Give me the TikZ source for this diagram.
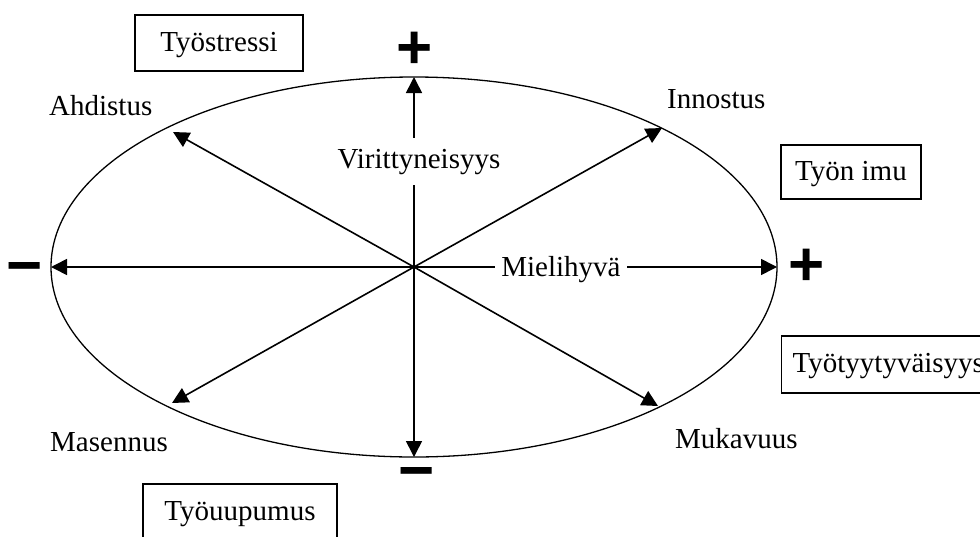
\documentclass[tikz,border=0pt]{standalone}
\usepackage{fontspec}
\setmainfont{Liberation Serif}
\newfontfamily\signfont{Liberation Sans}
\usetikzlibrary{arrows.meta}
\begin{document}
\begin{tikzpicture}[x=1pt,y=-1pt,
  txt/.style={font=\fontsize{29}{34}\selectfont, inner sep=0pt},
  boxed/.style={draw, line width=1.3pt, font=\fontsize{29}{34}\selectfont, text height=23pt, text depth=7pt, inner sep=0pt},
  sign/.style={font=\signfont\fontsize{62}{66}\selectfont\bfseries, inner sep=0pt},
  arr/.style={line width=1.6pt, -{Triangle[length=16pt,width=16pt]}},
  axlbl/.style={font=\fontsize{29}{34}\selectfont, fill=white, inner xsep=6pt, inner ysep=11pt},
  rim/.style={line width=1.3pt}
]
\useasboundingbox (0,0) rectangle (980,536);
\clip (0,0) rectangle (980,536);

\coordinate (c) at (414,267);
\draw[rim] (c) ellipse [x radius=363, y radius=190];

\coordinate (up) at (414,77);
\coordinate (down) at (414,457);
\coordinate (left) at (51,267);
\coordinate (right) at (777,267);
\coordinate (ahd) at (173,132);
\coordinate (inn) at (662,128);
\coordinate (mas) at (172,403);
\coordinate (muk) at (658,406);

\draw[arr] (c) -- (up);
\draw[arr] (c) -- (down);
\draw[arr] (c) -- (left);
\draw[arr] (c) -- (right);
\draw[arr] (c) -- (ahd);
\draw[arr] (c) -- (inn);
\draw[arr] (c) -- (mas);
\draw[arr] (c) -- (muk);

\node[axlbl, anchor=base] (vir) at (419,168) {Virittyneisyys};
\node[axlbl, anchor=base] (mie) at (561,276) {Mielihyvä};

\node[txt, anchor=base west] (ahdl) at (49,115) {Ahdistus};
\node[txt, anchor=base west] (innl) at (667,108) {Innostus};
\node[txt, anchor=base west] (masl) at (50,451) {Masennus};
\node[txt, anchor=base west] (mukl) at (675,448) {Mukavuus};

\node[boxed, minimum width=168, minimum height=56] (tst) at (219,43) {Työstressi};
\node[boxed, minimum width=140, minimum height=54] (timu) at (851,172) {Työn imu};
\node[boxed, anchor=west, inner xsep=11pt, minimum height=57] (tty) at (781,364.5) {Työtyytyväisyys};
\node[boxed, minimum width=194, minimum height=56] (tuu) at (240,512) {Työuupumus};

\node[sign] (ptop) at (414.5,50) {+};
\node[sign] (pright) at (807,267) {+};
\node[sign] (mleft) at (25,268) {\vphantom{+}−};
\node[sign] (mbottom) at (417,473) {\vphantom{+}−};
\end{tikzpicture}
\end{document}
